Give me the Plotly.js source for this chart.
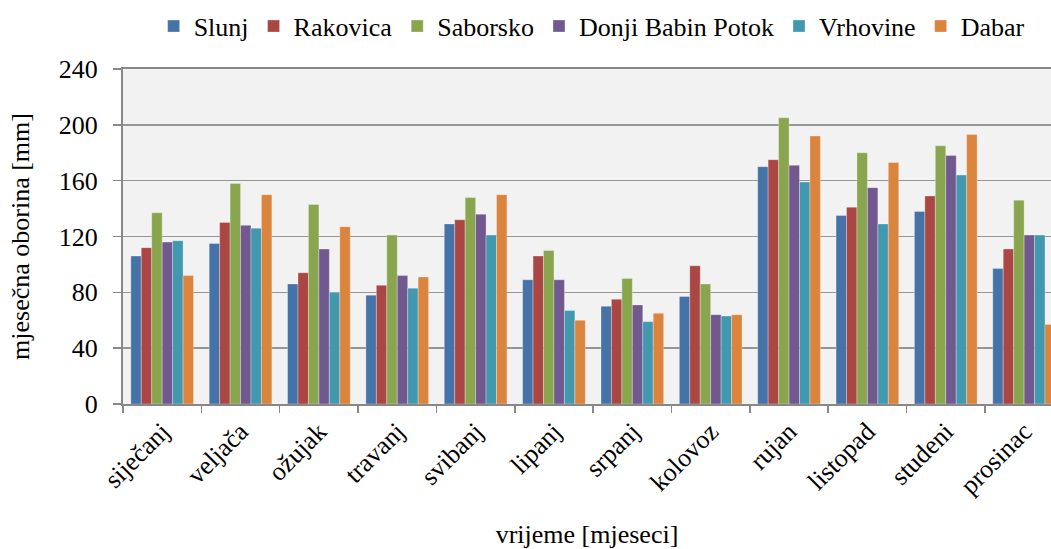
<!DOCTYPE html>
<html>
<head>
<meta charset="utf-8">
<script src="https://cdn.plot.ly/plotly-3.0.1.min.js"></script>
<style>html,body{margin:0;padding:0;background:#fff;}#chart{width:1051px;height:549px;}</style>
</head>
<body>
<div id="chart"></div>
<script>
const months = ["siječanj","veljača","ožujak","travanj","svibanj","lipanj","srpanj","kolovoz","rujan","listopad","studeni","prosinac"];
const slunj    = [106, 115, 86, 78, 129, 89, 70, 77, 170, 135, 138, 97];
const rakovica = [112, 130, 94, 85, 132, 106, 75, 99, 175, 141, 149, 111];
const saborsko = [137, 158, 143, 121, 148, 110, 90, 86, 205, 180, 185, 146];
const donji    = [116, 128, 111, 92, 136, 89, 71, 64, 171, 155, 178, 121];
const vrhovine = [117, 126, 80, 83, 121, 67, 59, 63, 159, 129, 164, 121];
const dabar    = [92, 150, 127, 91, 150, 60, 65, 64, 192, 173, 193, 57];
const yTicks = [0, 40, 80, 120, 160, 200, 240];

const seriesNames = ["Slunj","Rakovica","Saborsko","Donji Babin Potok","Vrhovine","Dabar"];
const seriesData = [slunj, rakovica, saborsko, donji, vrhovine, dabar];
const colors = ["#4572a7","#aa4643","#89a54e","#71588f","#4198af","#db843d"];

const FAM = "Liberation Serif";
const f = (s) => ({family: FAM, size: s, color: "#000"});

const traces = seriesNames.map((n, i) => ({
  type: "bar",
  name: n,
  x: months,
  y: seriesData[i],
  marker: {color: colors[i], line: {color: "rgba(255,255,255,0.5)", width: 0.6}},
  hoverinfo: "x+y+name"
}));

const layout = {
  width: 1051, height: 549,
  margin: {l: 123, r: 0, t: 69, b: 145, autoexpand: false},
  paper_bgcolor: "#ffffff",
  plot_bgcolor: "#f2f2f2",
  barmode: "group",
  bargap: 0.2,
  bargroupgap: 0,
  font: f(26),
  showlegend: true,
  legend: {
    orientation: "h", x: 0.505, xanchor: "center", y: 1.128, yanchor: "middle",
    font: f(26),
    itemwidth: 30, tracegroupgap: 0, traceorder: "normal"
  },
  xaxis: {
    type: "category",
    range: [-0.5, 11.343],
    tickson: "boundaries",
    ticks: "outside", ticklen: 7, tickcolor: "#888", tickwidth: 1.5,
    showline: true, linecolor: "#888", linewidth: 2, mirror: true,
    showgrid: false,
    tickangle: -45,
    tickfont: f(26),
    title: {text: "vrijeme [mjeseci]", font: f(26), standoff: 28}
  },
  yaxis: {
    range: [0, 240],
    tickvals: yTicks,
    ticktext: yTicks.map(String),
    ticks: "outside", ticklen: 8, tickcolor: "#888", tickwidth: 1.5,
    ticklabelstandoff: 10,
    showline: true, linecolor: "#888", linewidth: 2,
    showgrid: true, gridcolor: "#959595", gridwidth: 1.6,
    zeroline: false,
    tickfont: f(26),
    title: {text: "mjesečna oborina [mm]", font: f(26), standoff: 22}
  }
};

Plotly.newPlot("chart", traces, layout, {displayModeBar: false, staticPlot: true});
</script>
</body>
</html>
